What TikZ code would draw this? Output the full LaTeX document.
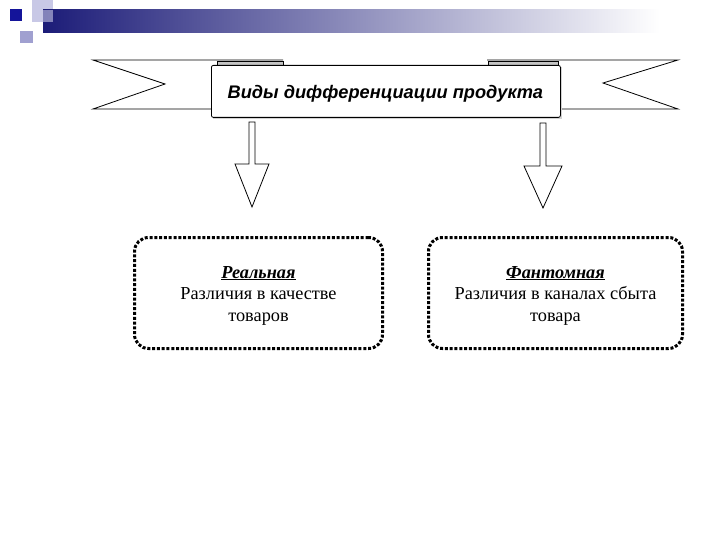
\documentclass[tikz,border=0pt]{standalone}
\usepackage{fontspec}
\setmainfont{Liberation Serif}
\newfontfamily\hdrfont{Liberation Sans}
\definecolor{navy}{HTML}{1C1C78}
\definecolor{sqdark}{HTML}{14149A}
\definecolor{sqlight}{HTML}{C8C8E6}
\definecolor{sqmid}{HTML}{A0A0D0}
\definecolor{foldgray}{HTML}{C4C4C4}
\begin{document}
\begin{tikzpicture}[x=1pt,y=-1pt,
  ribbon/.style={draw=black,line width=0.8pt,fill=white},
  fold/.style={draw=black,line width=0.6pt,fill=foldgray},
  hdrbox/.style={draw=black,line width=0.8pt,fill=white,rounded corners=2pt},
  arrowshape/.style={draw=black,line width=0.8pt,fill=white},
  dotbox/.style={draw=black,line width=3pt,dash pattern=on 3pt off 1.8pt,rounded corners=14pt},
  boxtext/.style={align=center,font=\fontsize{18.3}{21.5}\selectfont}
]
\useasboundingbox (0,0) rectangle (720,540);
% top decoration
\fill[sqlight] (32,0) rectangle (53,22);
\shade[left color=navy,right color=white] (43,10) rectangle (660,33);
\fill[sqlight,opacity=0.6] (32,10) rectangle (53,22);
\fill[sqdark] (10,9) rectangle (22,21);
\fill[sqmid] (20,31) rectangle (33,43);
% ribbon ears
\draw[ribbon] (283,60) -- (93,60) -- (165,84) -- (93,109) -- (215,109);
\draw[ribbon] (487,60) -- (678,60) -- (603,83) -- (678,109) -- (556,109);
\draw[fold] (217,61) rectangle (283,66);
\draw[fold] (488,61) rectangle (558,66);
% header box
\fill[gray!35] (213,67) rectangle (562,119);
\node[hdrbox,minimum width=349pt,minimum height=52pt,anchor=north west,inner sep=0pt] (hdr) at (211,65) {};
\node[font=\hdrfont\bfseries\itshape\fontsize{18.2}{21}\selectfont] (title) at ([xshift=-0.5pt,yshift=-2.5pt]hdr.center) {Виды дифференциации продукта};
% arrows
\coordinate (la) at (252,122);
\coordinate (ra) at (543,123);
\draw[arrowshape] ([xshift=-3pt]la) -- ([xshift=3pt]la) -- ++(0,42) -- ++(14,0) -- ++(-17,43) -- ++(-17,-43) -- ++(14,0) -- cycle;
\draw[arrowshape] ([xshift=-3pt]ra) -- ([xshift=3pt]ra) -- ++(0,43) -- ++(16,0) -- ++(-19,42) -- ++(-19,-42) -- ++(16,0) -- cycle;
% boxes
\node[dotbox,minimum width=248pt,minimum height=111pt,anchor=north west,inner sep=0pt] (lbox) at (133,236) {};
\node[dotbox,minimum width=254pt,minimum height=111pt,anchor=north west,inner sep=0pt] (rbox) at (427,236) {};
\node[boxtext] (ltext) at ([yshift=-2.5pt]lbox.center) {\underline{\textbf{\textit{Реальная}}}\\Различия в качестве\\товаров};
\node[boxtext] (rtext) at ([yshift=-2.5pt]rbox.center) {\underline{\textbf{\textit{Фантомная}}}\\Различия в каналах сбыта\\товара};
\end{tikzpicture}
\end{document}
